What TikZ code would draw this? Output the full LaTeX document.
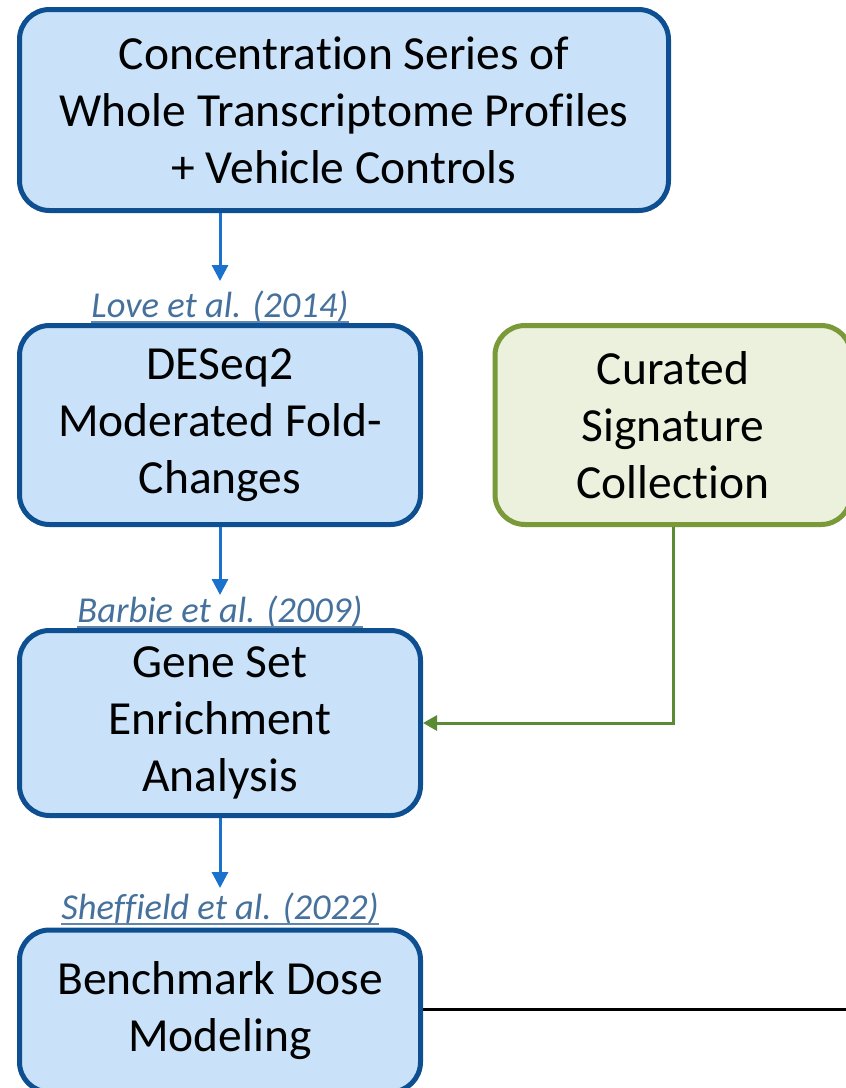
\documentclass[tikz,border=0pt]{standalone}
\usepackage{fontspec}
\setmainfont[Ligatures=NoCommon]{Carlito}
\usetikzlibrary{arrows.meta}
\definecolor{bfill}{HTML}{C9E2F9}
\definecolor{bdraw}{HTML}{0D4F90}
\definecolor{barrow}{HTML}{1A72CC}
\definecolor{lab}{HTML}{46719C}
\definecolor{gfill}{HTML}{EBF1DC}
\definecolor{gdraw}{HTML}{7A9A3A}
\definecolor{garrow}{HTML}{5A8B34}
\tikzset{
  box/.style={draw=bdraw, fill=bfill, line width=5pt, rounded corners=30pt, align=center,
    inner sep=0pt, font=\fontsize{47.5}{57}\selectfont},
  gbox/.style={box, draw=gdraw, fill=gfill},
  cite/.style={text=lab, font=\fontsize{36.5}{38}\selectfont\itshape, inner sep=0pt, anchor=base},
  uline/.style={draw=lab!85!white, line width=1.8pt},
  barr/.style={draw=barrow, line width=3pt, -{Triangle[length=16pt,width=16pt]}},
  garr/.style={draw=garrow, line width=3pt, -{Triangle[length=14pt,width=15pt]}},
}
\begin{document}
\begin{tikzpicture}[x=1pt,y=-1pt]
\useasboundingbox (0,0) rectangle (846,1088);
\node[box, minimum width=649pt, minimum height=201pt] (b1) at (344,110)
  {Concentration Series of\\Whole Transcriptome Profiles\\+ Vehicle Controls};
\node[box, minimum width=401pt, minimum height=199pt] (b2) at (220,425)
  {DESeq2\\Moderated Fold-\\Changes};
\node[gbox, minimum width=356pt, minimum height=199pt] (g) at (673,425)
  {Curated\\Signature\\Collection};
\node[box, minimum width=401pt, minimum height=185pt] (b3) at (220,723)
  {Gene Set\\Enrichment\\Analysis};
\node[box, minimum width=401pt, minimum height=162pt] (b4) at (220,1011)
  {Benchmark Dose\\Modeling};
\node[cite] (l1) at (220,317) {Love et al. (2014)};
\node[cite] (l2) at (220,622) {Barbie et al. (2009)};
\node[cite] (l3) at (220,919) {Sheffield et al. (2022)};
\foreach \l in {l1,l2,l3}
  \draw[uline] ([yshift=-5pt]\l.base west) -- ([yshift=-5pt]\l.base east);
\coordinate (t1) at (220,281);
\coordinate (t2) at (220,595);
\coordinate (t3) at (220,888);
\coordinate (e4) at (850,1009);
\draw[barr] (b1.south -| t1) -- (t1);
\draw[barr] (b2.south) -- (t2);
\draw[barr] (b3.south) -- (t3);
\draw[garr] (g.south) |- (b3.east);
\draw[line width=3pt, black] (b4.east |- e4) -- (e4);
\end{tikzpicture}
\end{document}
